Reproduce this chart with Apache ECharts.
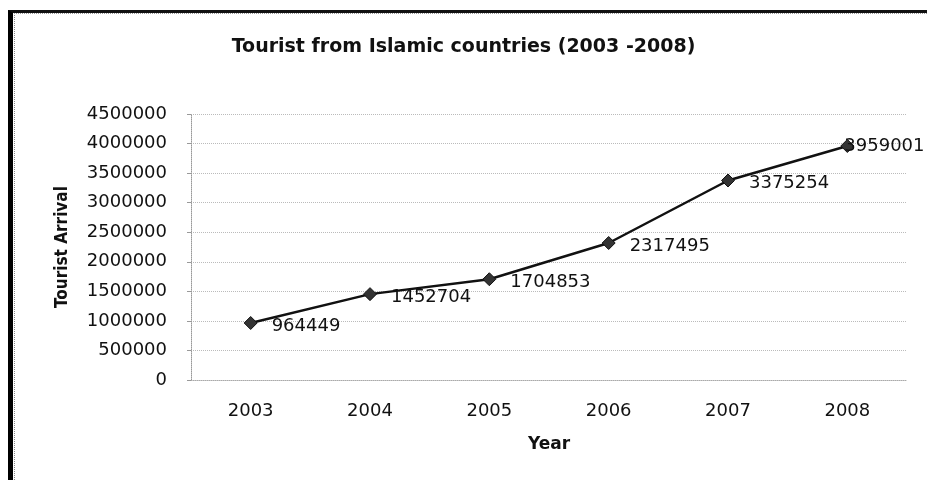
<!DOCTYPE html>
<html>
<head>
<meta charset="utf-8">
<script src="https://cdn.jsdelivr.net/npm/echarts@6/dist/echarts.min.js"></script>
<style>
html,body{margin:0;padding:0;background:#fff;}
#frame{position:absolute;left:8px;top:10px;width:960px;height:520px;border-left:5px solid #000;border-top:3px solid #111;}
#frame2{position:absolute;left:14px;top:13px;width:960px;height:520px;border-left:1px dotted #888;border-top:1px dotted #999;}
#chart{position:absolute;left:0;top:0;width:927px;height:480px;}
</style>
</head>
<body>
<div id="chart"></div>
<div id="frame"></div>
<div id="frame2"></div>
<script>
const years = ['2003','2004','2005','2006','2007','2008'];
const arrivals = [964449, 1452704, 1704853, 2317495, 3375254, 3959001];
const yTicks = { min: 0, max: 4500000, interval: 500000 };

const chart = echarts.init(document.getElementById('chart'), null, {renderer:'canvas'});
const font = 'DejaVu Sans';
const seriesData = arrivals.map((v, i) => {
  const d = { value: v };
  if (i === arrivals.length - 1) d.label = { offset: [-24, 0] };
  return d;
});
chart.setOption({
  backgroundColor: 'transparent',
  animation: false,
  title: {
    text: 'Tourist from Islamic countries (2003 -2008)',
    left: 'center', top: 33,
    textStyle: { fontFamily: font, fontWeight: 'bold', fontSize: 19, color: '#111' }
  },
  grid: { left: 191, right: 20, top: 114, bottom: 100 },
  xAxis: {
    type: 'category', data: years, boundaryGap: true,
    name: 'Year', nameLocation: 'middle', nameGap: 56,
    nameTextStyle: { fontFamily: font, fontWeight: 'bold', fontSize: 17, color: '#111' },
    axisLine: { lineStyle: { color: '#aaa', type: 'dotted', width: 1 } },
    axisTick: { show: false },
    axisLabel: { fontFamily: font, fontSize: 18, color: '#111', margin: 22 }
  },
  yAxis: {
    type: 'value', min: yTicks.min, max: yTicks.max, interval: yTicks.interval,
    name: 'Tourist Arrival', nameLocation: 'middle', nameGap: 120, nameRotate: 90,
    nameTextStyle: { fontFamily: 'DejaVu Sans Condensed', fontWeight: 'bold', fontSize: 17, color: '#111' },
    axisLine: { show: true, lineStyle: { color: '#999', type: 'dotted', width: 1 } },
    axisTick: { show: true, length: 4, lineStyle: { color: '#999' } },
    axisLabel: { fontFamily: font, fontSize: 18, color: '#111', margin: 24, formatter: v => String(v) },
    splitLine: { lineStyle: { color: '#bbb', type: 'dotted', width: 1 } }
  },
  series: [{
    type: 'line', data: seriesData,
    symbol: 'diamond', symbolSize: 13,
    lineStyle: { color: '#111', width: 2.5 },
    itemStyle: { color: '#333', borderColor: '#111', borderWidth: 1 },
    label: {
      show: true, position: 'right', distance: 14, offset: [0, 3],
      fontFamily: font, fontSize: 18, color: '#111'
    }
  }]
});
</script>
</body>
</html>
